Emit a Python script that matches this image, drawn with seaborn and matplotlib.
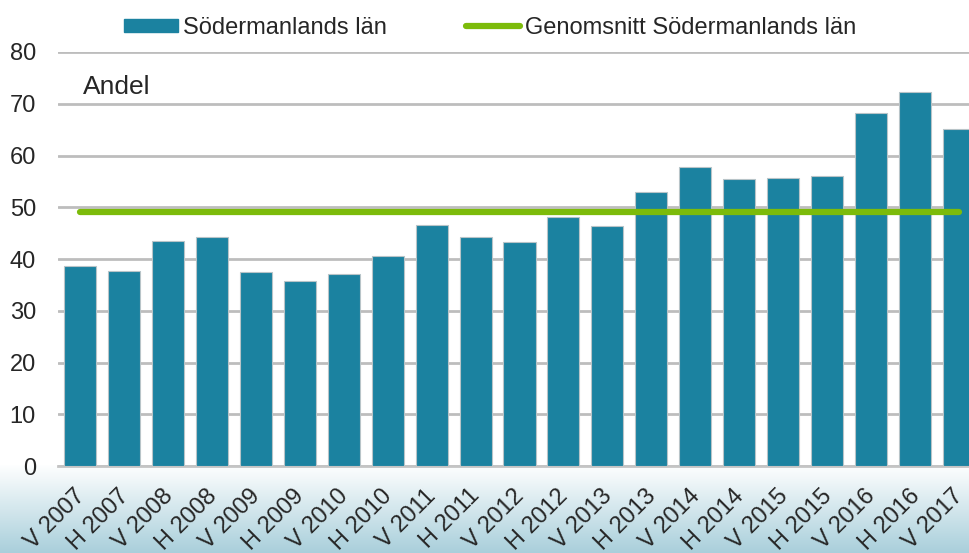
import matplotlib
matplotlib.use('Agg')
import matplotlib.pyplot as plt
import matplotlib.transforms as mtransforms
import seaborn as sns
import numpy as np
from matplotlib.lines import Line2D
from matplotlib.patches import Patch

# ------------------ DATA ------------------
periods = ["V 2007", "H 2007", "V 2008", "H 2008", "V 2009", "H 2009", "V 2010",
           "H 2010", "V 2011", "H 2011", "V 2012", "H 2012", "V 2013", "H 2013",
           "V 2014", "H 2014", "V 2015", "H 2015", "V 2016", "H 2016", "V 2017"]
andel = [38.7, 37.7, 43.5, 44.3, 37.5, 35.7, 37.2, 40.5, 46.6, 44.3, 43.3,
         48.1, 46.3, 52.9, 57.8, 55.5, 55.7, 56.0, 68.2, 72.2, 65.1]
genomsnitt = [49.0] * len(periods)

bar_color = "#1b82a0"
line_color = "#7cbb0a"
fs = 17

sns.set_style("white")
plt.rcParams['font.family'] = ['Liberation Sans', 'DejaVu Sans']

fig = plt.figure(figsize=(9.69, 5.53), dpi=100)

# light blue gradient behind the x labels
bg = fig.add_axes([0, 0, 1, 0.16], zorder=-5)
grad = np.linspace(0, 1, 256).reshape(-1, 1)
cmap = matplotlib.colors.LinearSegmentedColormap.from_list("g", ["#a9cfdb", "#ffffff"])
bg.imshow(grad, aspect='auto', cmap=cmap, origin='lower', extent=[0, 1, 0, 1])
bg.axis('off')

ax = fig.add_axes([0.060, 0.157, 0.940, 0.749])
ax.patch.set_alpha(0)

sns.barplot(x=periods, y=andel, color=bar_color, width=0.73, saturation=1,
            edgecolor="#b8c4c8", linewidth=0.8, ax=ax, zorder=3)
ax.plot(np.arange(len(periods)), genomsnitt, color=line_color, lw=4.5,
        solid_capstyle='round', zorder=4)

ax.set_ylim(0, 80)
ax.set_xlim(-0.5, 20.23)
ax.set_yticks(range(0, 81, 10))
ax.grid(axis='y', color="#bdbdbd", lw=2, zorder=0)
for s in ["top", "right", "left"]:
    ax.spines[s].set_visible(False)
ax.spines["bottom"].set_color("#c4c4c4")
ax.spines["bottom"].set_linewidth(2)

ax.tick_params(axis='y', length=0, pad=16, labelsize=fs)
ax.tick_params(axis='x', length=0, pad=12, labelsize=fs)
shift = mtransforms.ScaledTranslation(0.09, -0.02, fig.dpi_scale_trans)
for lbl in ax.get_xticklabels():
    lbl.set_rotation(45)
    lbl.set_ha('right')
    lbl.set_va('top')
    lbl.set_transform(lbl.get_transform() + shift)
ax.set_xlabel("")
ax.set_ylabel("")

ax.text(0.027, 0.945, "Andel", transform=ax.transAxes, fontsize=19, va='top')

handles = [Patch(color=bar_color), Line2D([0], [0], color=line_color, lw=4.5)]
fig.legend(handles, ["Södermanlands län", "Genomsnitt Södermanlands län"],
           loc='upper left', bbox_to_anchor=(0.106, 1.008), ncol=2, frameon=False,
           fontsize=fs, handlelength=2.3, handleheight=0.5, handletextpad=0.2,
           columnspacing=3.35)

plt.savefig("out.png", dpi=100)
